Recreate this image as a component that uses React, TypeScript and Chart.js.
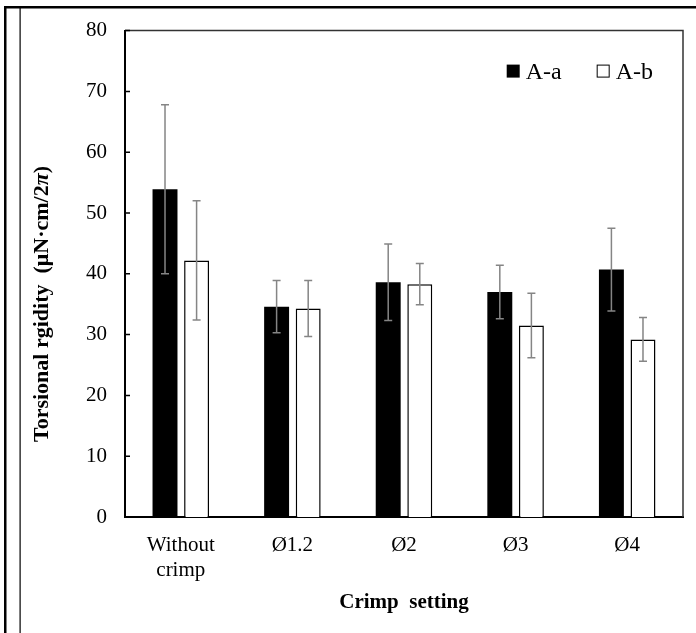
import React, { useEffect, useRef } from "react";
import { Chart, registerables } from "chart.js";

Chart.register(...registerables);

const categories: (string | string[])[] = [["Without", "crimp"], "Ø1.2", "Ø2", "Ø3", "Ø4"];
const seriesNames = ["A-a", "A-b"];
const valuesA = [53.9, 34.6, 38.6, 37.0, 40.7];
const errorsA = [13.9, 4.3, 6.3, 4.4, 6.8];
const valuesB = [42.2, 34.3, 38.3, 31.5, 29.2];
const errorsB = [9.8, 4.6, 3.4, 5.3, 3.6];
const yMin = 0;
const yMax = 80;
const yStep = 10;
const xTitle = "Crimp  setting";
const yTitleParts = [
  { text: "Torsional rgidity  (μN·cm/2", italic: false },
  { text: "π", italic: true },
  { text: ")", italic: false },
];

const SERIF = "'Liberation Serif', 'Times New Roman', serif";

const errorBarPlugin = {
  id: "errorBars",
  afterDatasetsDraw(chart: any) {
    const ctx = chart.ctx;
    const yScale = chart.scales.y;
    const errs = [errorsA, errorsB];
    ctx.save();
    ctx.strokeStyle = "#858585";
    ctx.lineWidth = 1.5;
    chart.data.datasets.forEach((ds: any, di: number) => {
      const meta = chart.getDatasetMeta(di);
      meta.data.forEach((bar: any, i: number) => {
        const v = ds.data[i];
        const e = errs[di][i];
        const x = bar.x;
        const yTop = yScale.getPixelForValue(v + e);
        const yBot = yScale.getPixelForValue(v - e);
        ctx.beginPath();
        ctx.moveTo(x, yTop);
        ctx.lineTo(x, yBot);
        ctx.moveTo(x - 4, yTop);
        ctx.lineTo(x + 4, yTop);
        ctx.moveTo(x - 4, yBot);
        ctx.lineTo(x + 4, yBot);
        ctx.stroke();
      });
    });
    ctx.restore();
  },
};

const framePlugin = {
  id: "frame",
  beforeDraw(chart: any) {
    const ctx = chart.ctx;
    ctx.save();
    ctx.fillStyle = "#ffffff";
    ctx.fillRect(0, 0, chart.width, chart.height);
    ctx.fillStyle = "#000000";
    ctx.fillRect(4, 6, chart.width - 4, 2.5);
    ctx.fillRect(4, 6, 2.5, chart.height - 6);
    ctx.fillRect(19.5, 8, 1.2, chart.height - 8);
    ctx.restore();
  },
  afterDraw(chart: any) {
    const { ctx, chartArea } = chart;
    const yScale = chart.scales.y;
    ctx.save();
    // top and right frame
    ctx.strokeStyle = "#333333";
    ctx.lineWidth = 1.5;
    ctx.beginPath();
    ctx.moveTo(chartArea.left, chartArea.top);
    ctx.lineTo(chartArea.right, chartArea.top);
    ctx.lineTo(chartArea.right, chartArea.bottom);
    ctx.stroke();
    // inward y ticks
    ctx.strokeStyle = "#000";
    ctx.lineWidth = 1.5;
    ctx.beginPath();
    yScale.ticks.forEach((t: any) => {
      const y = yScale.getPixelForValue(t.value);
      ctx.moveTo(chartArea.left, y);
      ctx.lineTo(chartArea.left + 5, y);
    });
    ctx.stroke();

    // legend
    ctx.font = "24px " + SERIF;
    ctx.textBaseline = "alphabetic";
    ctx.textAlign = "left";
    const w1 = ctx.measureText(seriesNames[0]).width;
    const w2 = ctx.measureText(seriesNames[1]).width;
    const box = 13;
    const gapBoxText = 6;
    const gapItems = 35;
    const endX = chartArea.right - 30;
    const x2Text = endX - w2;
    const x2Box = x2Text - gapBoxText - box;
    const x1Text = x2Box - gapItems - w1;
    const x1Box = x1Text - gapBoxText - box;
    const boxTop = chartArea.top + 34;
    const baseline = boxTop + 14;
    ctx.fillStyle = "#000";
    ctx.fillRect(x1Box, boxTop, box, box);
    ctx.fillText(seriesNames[0], x1Text, baseline);
    ctx.fillStyle = "#fff";
    ctx.fillRect(x2Box, boxTop, box, box);
    ctx.strokeStyle = "#000";
    ctx.lineWidth = 1;
    ctx.strokeRect(x2Box + 0.5, boxTop + 0.5, box - 1, box - 1);
    ctx.fillStyle = "#000";
    ctx.fillText(seriesNames[1], x2Text, baseline);

    // y title with italic pi
    ctx.translate(42, 304);
    ctx.rotate(-Math.PI / 2);
    ctx.fillStyle = "#000";
    ctx.textBaseline = "middle";
    const fonts = yTitleParts.map((p) => (p.italic ? "italic bold 22px " : "bold 22px ") + SERIF);
    let total = 0;
    yTitleParts.forEach((p, i) => {
      ctx.font = fonts[i];
      total += ctx.measureText(p.text).width;
    });
    let x = -total / 2;
    yTitleParts.forEach((p, i) => {
      ctx.font = fonts[i];
      ctx.textAlign = "left";
      ctx.fillText(p.text, x, 0);
      x += ctx.measureText(p.text).width;
    });
    ctx.restore();
  },
};

export default function App() {
  const ref = useRef<HTMLCanvasElement>(null);
  useEffect(() => {
    document.body.style.margin = "0";
    const chart = new Chart(ref.current!, {
      type: "bar",
      data: {
        labels: categories,
        datasets: [
          {
            label: seriesNames[0],
            data: valuesA,
            backgroundColor: "#000000",
            borderColor: "#000000",
            borderWidth: 0,
          },
          {
            label: seriesNames[1],
            data: valuesB,
            backgroundColor: "#ffffff",
            borderColor: "#000000",
            borderWidth: 1.5,
          },
        ],
      },
      options: {
        animation: false,
        responsive: false,
        maintainAspectRatio: false,
        devicePixelRatio: 1,
        datasets: {
          bar: { categoryPercentage: 0.566, barPercentage: 0.79 },
        },
        layout: { padding: { top: 22.5, right: 13, left: 0, bottom: 0 } },
        plugins: {
          legend: { display: false },
          tooltip: { enabled: false },
        },
        scales: {
          x: {
            grid: { display: false, drawTicks: false },
            border: { color: "#000", width: 2 },
            ticks: {
              color: "#000",
              font: { family: SERIF, size: 21 },
              padding: 16,
              maxRotation: 0,
              autoSkip: false,
            },
            title: {
              display: true,
              text: xTitle,
              color: "#000",
              font: { family: SERIF, size: 21, weight: "bold" },
              padding: { top: 0, bottom: 18 },
            },
            afterFit: (s: any) => {
              s.height = 116;
            },
          },
          y: {
            min: yMin,
            max: yMax,
            grid: { display: false, drawTicks: false },
            border: { color: "#000", width: 2 },
            ticks: {
              stepSize: yStep,
              color: "#000",
              font: { family: SERIF, size: 21 },
              padding: 18,
            },
            afterFit: (s: any) => {
              s.width = 125;
            },
          },
        },
      },
      plugins: [errorBarPlugin, framePlugin],
    });
    return () => chart.destroy();
  }, []);
  return (
    <div style={{ position: "fixed", left: 0, top: 0, width: 696, height: 633 }}>
      <canvas ref={ref} width={696} height={633} style={{ width: 696, height: 633 }} />
    </div>
  );
}
